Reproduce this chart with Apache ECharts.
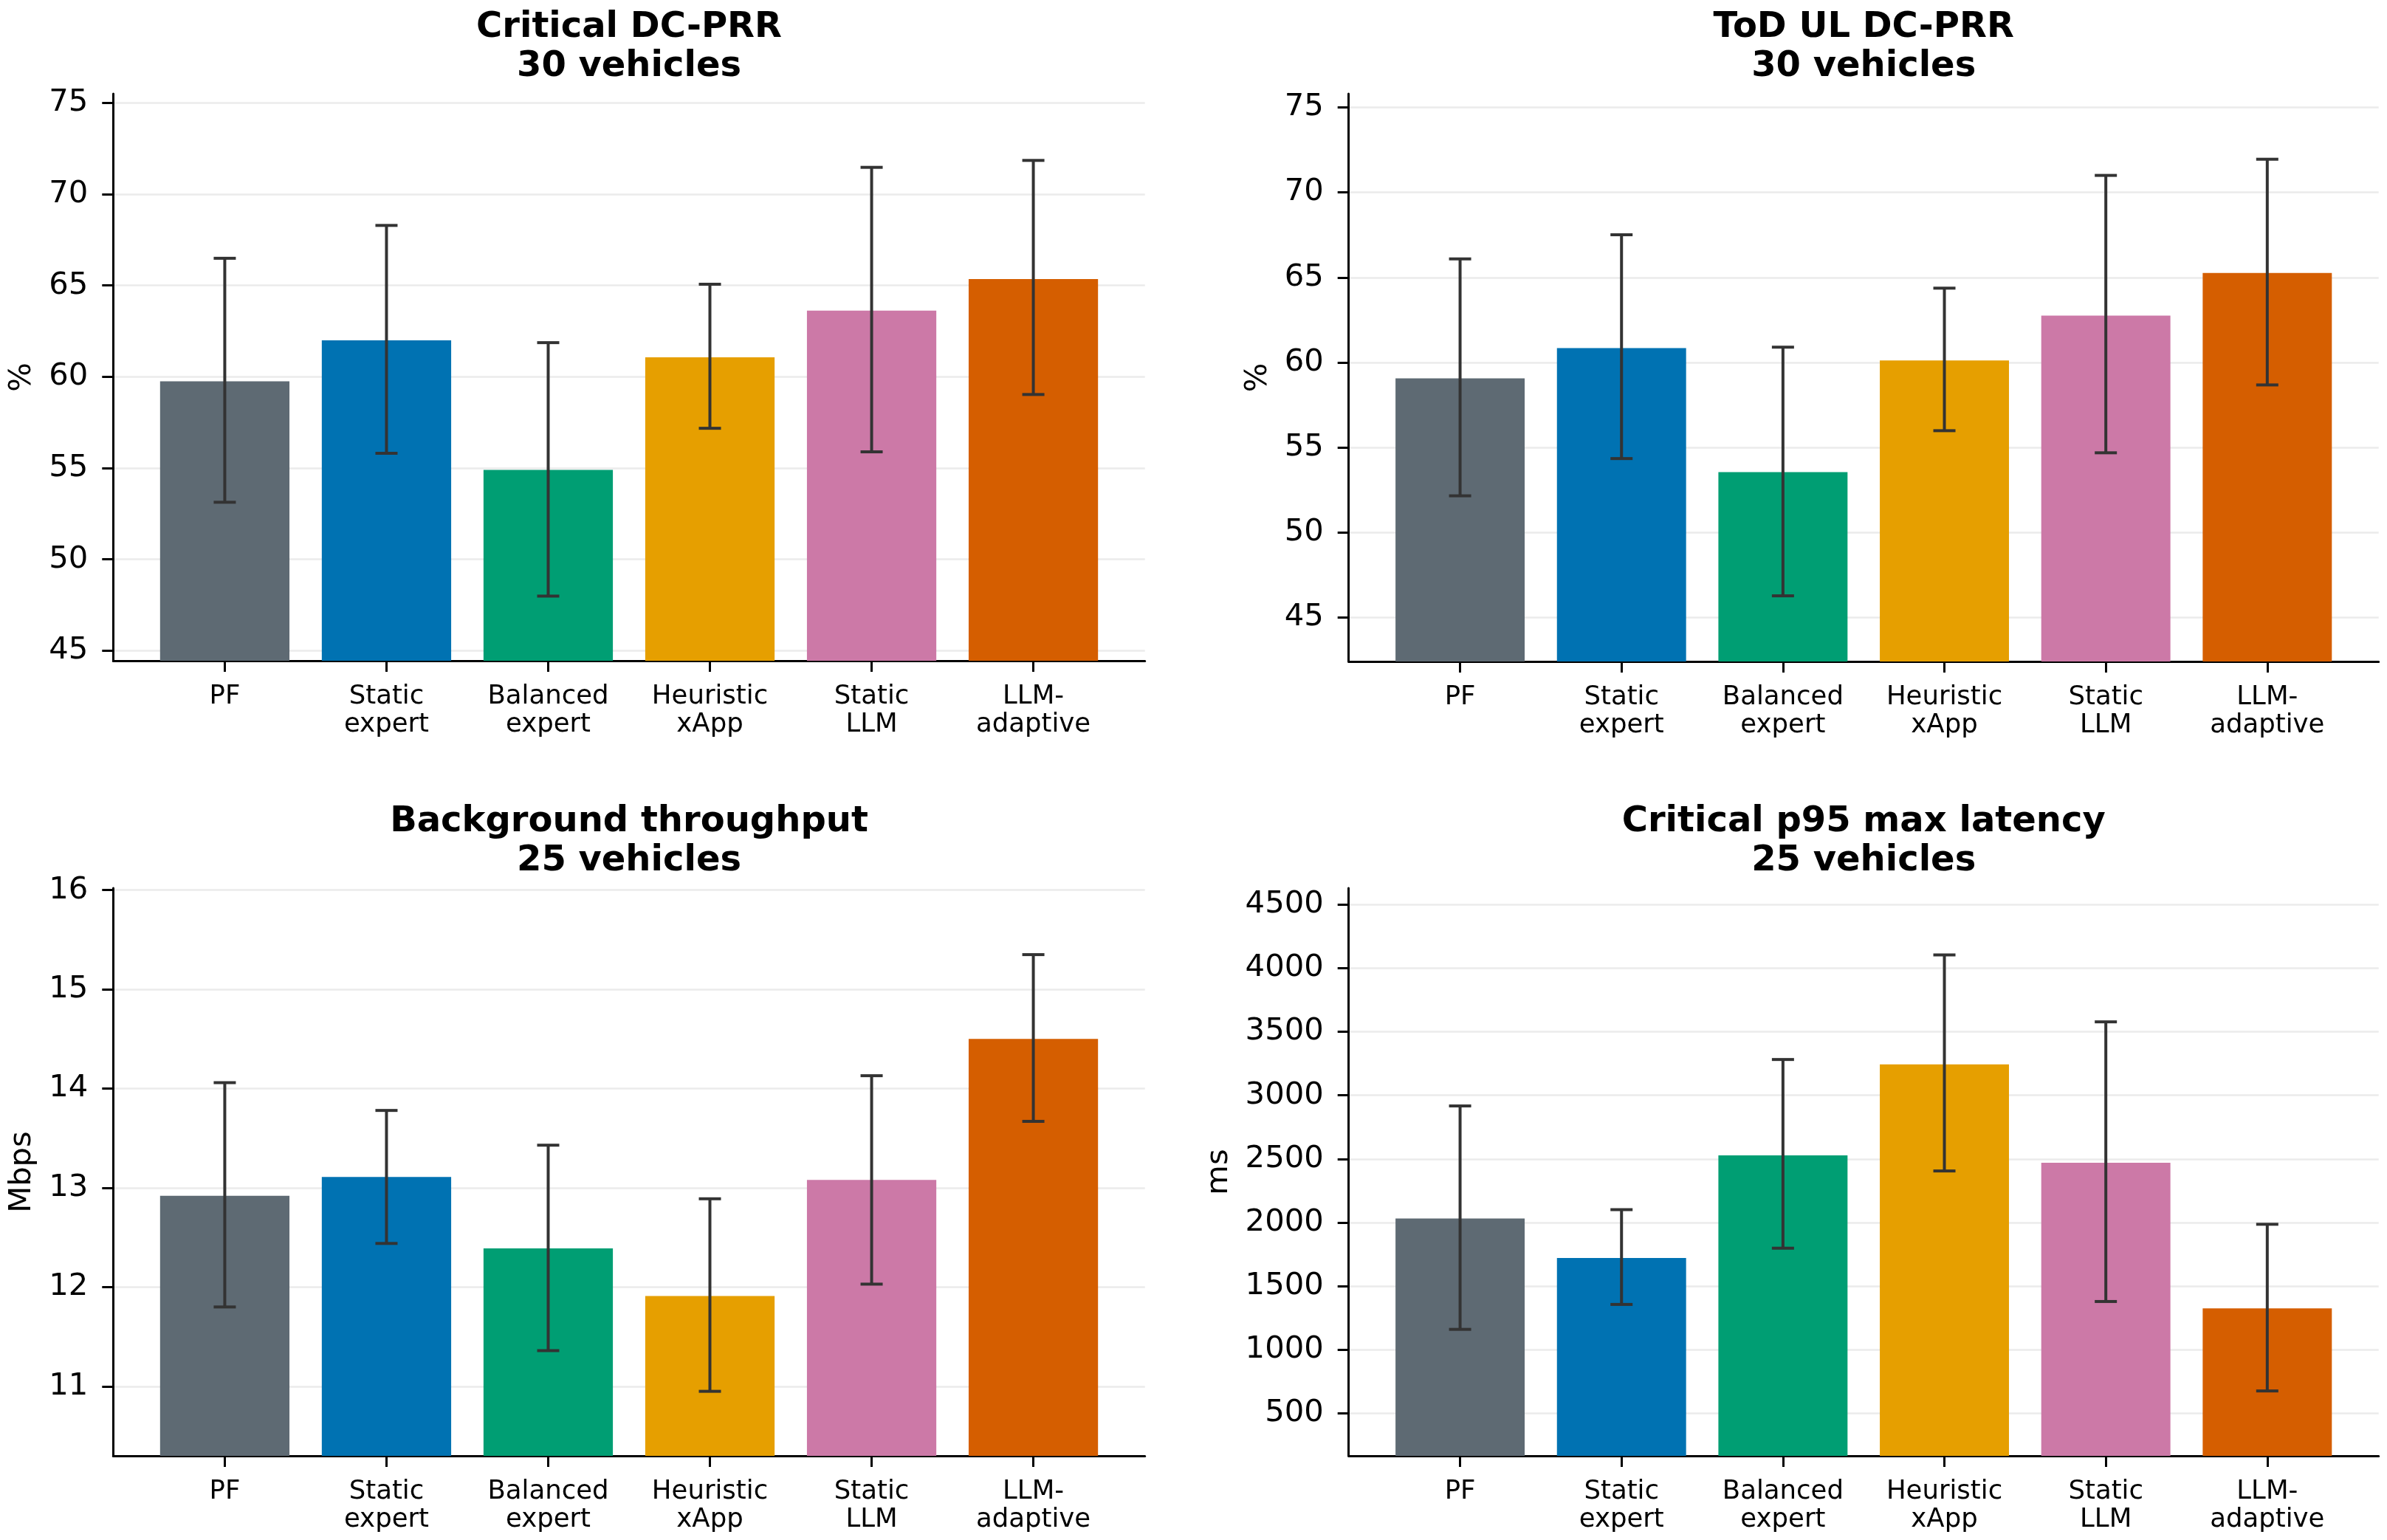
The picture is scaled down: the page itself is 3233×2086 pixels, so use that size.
<!DOCTYPE html>
<html><head><meta charset="utf-8">
<script src="https://cdn.jsdelivr.net/npm/echarts@6/dist/echarts.min.js"></script>
<style>html,body{margin:0;padding:0;background:#fff}#c{width:3233px;height:2086px}</style>
</head><body><div id="c"></div>
<script>
// ---------- data ----------
const categories = ['PF', 'Static\nexpert', 'Balanced\nexpert', 'Heuristic\nxApp', 'Static\nLLM', 'LLM-\nadaptive'];
const barColors = ['#5E6A73', '#0072B2', '#009E73', '#E69F00', '#CC79A7', '#D55E00'];

const titles = ['Critical DC-PRR\n30 vehicles', 'ToD UL DC-PRR\n30 vehicles', 'Background throughput\n25 vehicles', 'Critical p95 max latency\n25 vehicles'];
const yNames = ['%', '%', 'Mbps', 'ms'];

const critMean = [59.75, 62.0, 54.9, 61.07, 63.62, 65.35];
const critLow  = [53.13, 55.81, 47.99, 57.18, 55.89, 59.03];
const critHigh = [66.49, 68.29, 61.87, 65.07, 71.47, 71.85];

const todMean = [59.07, 60.85, 53.55, 60.12, 62.76, 65.26];
const todLow  = [52.16, 54.35, 46.28, 55.99, 54.69, 58.68];
const todHigh = [66.09, 67.51, 60.90, 64.37, 71.00, 71.95];

const bgMean = [12.92, 13.11, 12.39, 11.91, 13.08, 14.50];
const bgLow  = [11.80, 12.44, 11.36, 10.95, 12.03, 13.67];
const bgHigh = [14.06, 13.78, 13.43, 12.89, 14.13, 15.35];

const latMean = [2033, 1722, 2529, 3244, 2471, 1326];
const latLow  = [1161, 1357, 1799, 2406, 1380, 677];
const latHigh = [2917, 2102, 3282, 4104, 3578, 1987];

const yTicks1 = [45, 50, 55, 60, 65, 70, 75];
const yTicks2 = [45, 50, 55, 60, 65, 70, 75];
const yTicks3 = [11, 12, 13, 14, 15, 16];
const yTicks4 = [500, 1000, 1500, 2000, 2500, 3000, 3500, 4000, 4500];

const yMin = [44.45, 42.42, 10.30, 167];
const yMax = [75.5, 75.8, 16.02, 4629];

// ---------- layout ----------
const boxes = [
  {l: 153.3, t: 127, w: 1397.4, h: 768},
  {l: 1826.7, t: 127, w: 1395, h: 769},
  {l: 153.3, t: 1203, w: 1397.4, h: 769},
  {l: 1826.7, t: 1203, w: 1395, h: 769}
];
const nameGaps = [102, 102, 102, 155];
const FONT = 'DejaVu Sans';

const panels = [
  {mean: critMean, low: critLow, high: critHigh, ticks: yTicks1},
  {mean: todMean, low: todLow, high: todHigh, ticks: yTicks2},
  {mean: bgMean, low: bgLow, high: bgHigh, ticks: yTicks3},
  {mean: latMean, low: latLow, high: latHigh, ticks: yTicks4}
];

function renderErr(params, api) {
  const x = api.value(0);
  const lo = api.coord([x, api.value(1)]);
  const hi = api.coord([x, api.value(2)]);
  const cw = 15;
  const st = {stroke: '#333333', lineWidth: 4};
  return {type: 'group', children: [
    {type: 'line', shape: {x1: lo[0], y1: lo[1], x2: hi[0], y2: hi[1]}, style: st},
    {type: 'line', shape: {x1: lo[0] - cw, y1: lo[1], x2: lo[0] + cw, y2: lo[1]}, style: st},
    {type: 'line', shape: {x1: hi[0] - cw, y1: hi[1], x2: hi[0] + cw, y2: hi[1]}, style: st}
  ]};
}

const grid = [], xAxis = [], yAxis = [], series = [], title = [];
const axisLineStyle = {color: '#000', width: 3};

panels.forEach((p, k) => {
  const b = boxes[k];
  const inset = b.w * 0.19 / 6.38;
  const gA = 2 * k, gB = 2 * k + 1;
  grid.push({left: b.l, top: b.t, width: b.w, height: b.h});
  grid.push({left: b.l + inset, top: b.t, width: b.w - 2 * inset, height: b.h});

  xAxis.push({gridIndex: gA, type: 'value', min: 0, max: 1,
    axisLine: {show: true, onZero: false, lineStyle: axisLineStyle},
    axisTick: {show: false}, axisLabel: {show: false}, splitLine: {show: false}});
  xAxis.push({gridIndex: gB, type: 'category', data: categories,
    axisLine: {show: false, onZero: false},
    axisTick: {show: true, alignWithLabel: true, length: 15, lineStyle: axisLineStyle},
    axisLabel: {interval: 0, margin: 30, fontSize: 35.5, lineHeight: 38, color: '#000', fontFamily: FONT},
    splitLine: {show: false}});

  yAxis.push({gridIndex: gA, type: 'value', min: yMin[k], max: yMax[k],
    name: yNames[k], nameLocation: 'middle', nameGap: nameGaps[k],
    nameTextStyle: {fontSize: 41.7, color: '#000', fontFamily: FONT},
    axisLine: {show: true, onZero: false, lineStyle: axisLineStyle},
    axisTick: {show: true, customValues: p.ticks, length: 15, lineStyle: axisLineStyle},
    axisLabel: {customValues: p.ticks, margin: 34, fontSize: 41.7, color: '#000', fontFamily: FONT,
      formatter: (v) => String(Math.round(v))},
    splitLine: {show: true, lineStyle: {color: '#EBEBEB', width: 2.5}}});
  yAxis.push({gridIndex: gB, type: 'value', min: yMin[k], max: yMax[k], show: false,
    axisLine: {onZero: false}, splitLine: {show: false}});

  series.push({type: 'bar', xAxisIndex: gB, yAxisIndex: gB, barWidth: '80%',
    data: p.mean.map((v, i) => ({value: v, itemStyle: {color: barColors[i]}})),
    silent: true, z: 2});
  series.push({type: 'custom', xAxisIndex: gB, yAxisIndex: gB, renderItem: renderErr,
    encode: {x: 0, y: [1, 2]},
    data: p.mean.map((v, i) => [i, p.low[i], p.high[i]]), silent: true, z: 5});

  title.push({text: titles[k], left: b.l + b.w / 2, top: b.t - 116, textAlign: 'center', padding: 0,
    textStyle: {fontSize: 48, fontWeight: 'bold', lineHeight: 53, color: '#000', fontFamily: FONT}});
});

const chart = echarts.init(document.getElementById('c'), null, {renderer: 'canvas'});
chart.setOption({
  animation: false,
  backgroundColor: '#ffffff',
  title, grid, xAxis, yAxis, series
});
</script>
</body></html>
